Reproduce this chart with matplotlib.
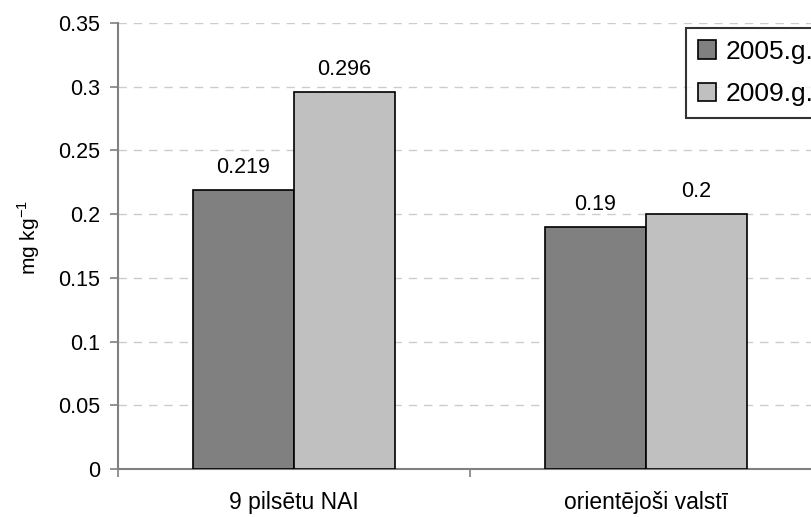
import numpy as np
import matplotlib.pyplot as plt
from matplotlib.patches import Patch

categories = ["9 pilsētu NAI", "orientējoši valstī"]
years = ["2005.g.", "2009.g."]
values_2005 = [0.219, 0.19]
values_2009 = [0.296, 0.2]
label_2005 = ["0.219", "0.19"]
label_2009 = ["0.296", "0.2"]
y_ticks = [0, 0.05, 0.1, 0.15, 0.2, 0.25, 0.3, 0.35]
y_tick_labels = ["0", "0.05", "0.1", "0.15", "0.2", "0.25", "0.3", "0.35"]

plt.rcParams['font.family'] = ['Liberation Sans', 'DejaVu Sans']

fig = plt.figure(figsize=(8.12, 5.17), dpi=100)
fig.set_facecolor('white')
# axes runs a little past the right edge of the figure
ax = fig.add_axes([0.1453, 0.0928, 0.867, 0.8627])

x = np.arange(len(categories))
w = 0.287
dark = '#808080'
light = '#c0c0c0'
b1 = ax.bar(x - w / 2, values_2005, w, color=dark, edgecolor='black', linewidth=1.2, zorder=3)
b2 = ax.bar(x + w / 2, values_2009, w, color=light, edgecolor='black', linewidth=1.2, zorder=3)

for bars, labels in ((b1, label_2005), (b2, label_2009)):
    for rect, txt in zip(bars, labels):
        ax.annotate(txt, (rect.get_x() + rect.get_width() / 2, rect.get_height()),
                    xytext=(0, 12), textcoords='offset points',
                    ha='center', va='baseline', fontsize=15.5)

ax.set_xlim(-0.5, 1.5)
ax.set_ylim(0, 0.35)
ax.set_yticks(y_ticks)
ax.set_yticklabels(y_tick_labels, fontsize=15.5)
ax.set_xticks(x)
ax.set_xticklabels(categories, fontsize=16.5)
ax.tick_params(axis='x', length=0, pad=16)
ax.set_xticks([-0.5, 0.5, 1.5], minor=True)
ax.tick_params(axis='x', which='minor', length=6, color=dark, width=1.2)
ax.tick_params(axis='y', length=6, color=dark, width=1.2, pad=7)

ax.yaxis.grid(True, linestyle=(0, (6, 5)), color='#cccccc', linewidth=1, zorder=0)
for s in ('top', 'right'):
    ax.spines[s].set_visible(False)
for s in ('left', 'bottom'):
    ax.spines[s].set_color(dark)
    ax.spines[s].set_linewidth(1.5)
ax.spines['left'].set_zorder(4)

ax.set_ylabel("mg kg$^{\\mathregular{-1}}$", fontsize=15)
ax.yaxis.set_label_coords(-0.108, 0.52)

handles = [Patch(facecolor=dark, edgecolor='black', linewidth=1.2),
           Patch(facecolor=light, edgecolor='black', linewidth=1.2)]
leg = ax.legend(handles, years, loc='upper left', bbox_to_anchor=(0.807, 0.989),
                fontsize=19, frameon=True, fancybox=False, handlelength=0.7,
                handleheight=0.72, handletextpad=0.35, borderpad=0.45,
                labelspacing=0.7, borderaxespad=0)
leg.get_frame().set_edgecolor('black')
leg.get_frame().set_linewidth(1.5)

fig.savefig("out.png", dpi=100, facecolor='white')
